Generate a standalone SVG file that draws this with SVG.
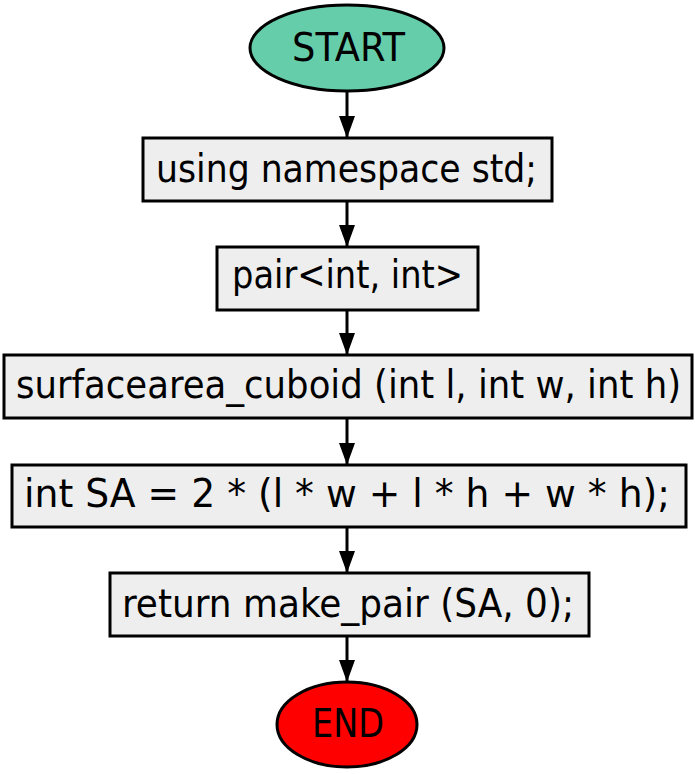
<svg xmlns="http://www.w3.org/2000/svg" width="695" height="774" viewBox="0 0 695 774">
<style>
.box{fill:#eeeeee;stroke:#000;stroke-width:3}
.ell{stroke:#000;stroke-width:3}
.t{font-family:"DejaVu Sans Condensed","DejaVu Sans",sans-serif;font-size:39px;fill:#000;text-anchor:start}
.edge{stroke:#000;stroke-width:3;fill:none;marker-end:url(#ah)}
</style>
<defs>
<marker id="ah" markerUnits="userSpaceOnUse" markerWidth="22" markerHeight="16" refX="22" refY="8" orient="auto" viewBox="0 0 22 16">
<path d="M0,0 L22,8 L0,16 Z" fill="#000"/>
</marker>
</defs>
<rect width="695" height="774" fill="#fff"/>
<g id="edges">
<path class="edge" d="M347,92 V138"/>
<path class="edge" d="M347,201 V247"/>
<path class="edge" d="M347,310 V355"/>
<path class="edge" d="M347,418 V465"/>
<path class="edge" d="M347,527 V573"/>
<path class="edge" d="M347,636 V682"/>
</g>
<g id="start">
<ellipse class="ell" cx="347" cy="48" rx="97" ry="43" fill="#66cdaa"/>
<text class="t" x="292" y="61" textLength="113" lengthAdjust="spacingAndGlyphs">START</text>
</g>
<g id="n1">
<rect class="box" x="143" y="138" width="409" height="63"/>
<text class="t" x="156" y="182" textLength="381" lengthAdjust="spacingAndGlyphs">using namespace std;</text>
</g>
<g id="n2">
<rect class="box" x="217" y="247" width="261" height="63"/>
<text class="t" x="232" y="288" textLength="231" lengthAdjust="spacingAndGlyphs">pair&lt;int, int&gt;</text>
</g>
<g id="n3">
<rect class="box" x="4" y="355" width="688" height="63"/>
<text class="t" x="16" y="398" textLength="665" lengthAdjust="spacingAndGlyphs">surfacearea_cuboid (int l, int w, int h)</text>
</g>
<g id="n4">
<rect class="box" x="12" y="465" width="674" height="62"/>
<text class="t" x="24" y="507" textLength="646" lengthAdjust="spacingAndGlyphs">int SA = 2 * (l * w + l * h + w * h);</text>
</g>
<g id="n5">
<rect class="box" x="110" y="573" width="479" height="63"/>
<text class="t" x="122" y="617" textLength="452" lengthAdjust="spacingAndGlyphs">return make_pair (SA, 0);</text>
</g>
<g id="end">
<ellipse class="ell" cx="347" cy="724.5" rx="70" ry="42.5" fill="#ff0000"/>
<text class="t" x="312" y="737" textLength="72" lengthAdjust="spacingAndGlyphs">END</text>
</g>
</svg>
